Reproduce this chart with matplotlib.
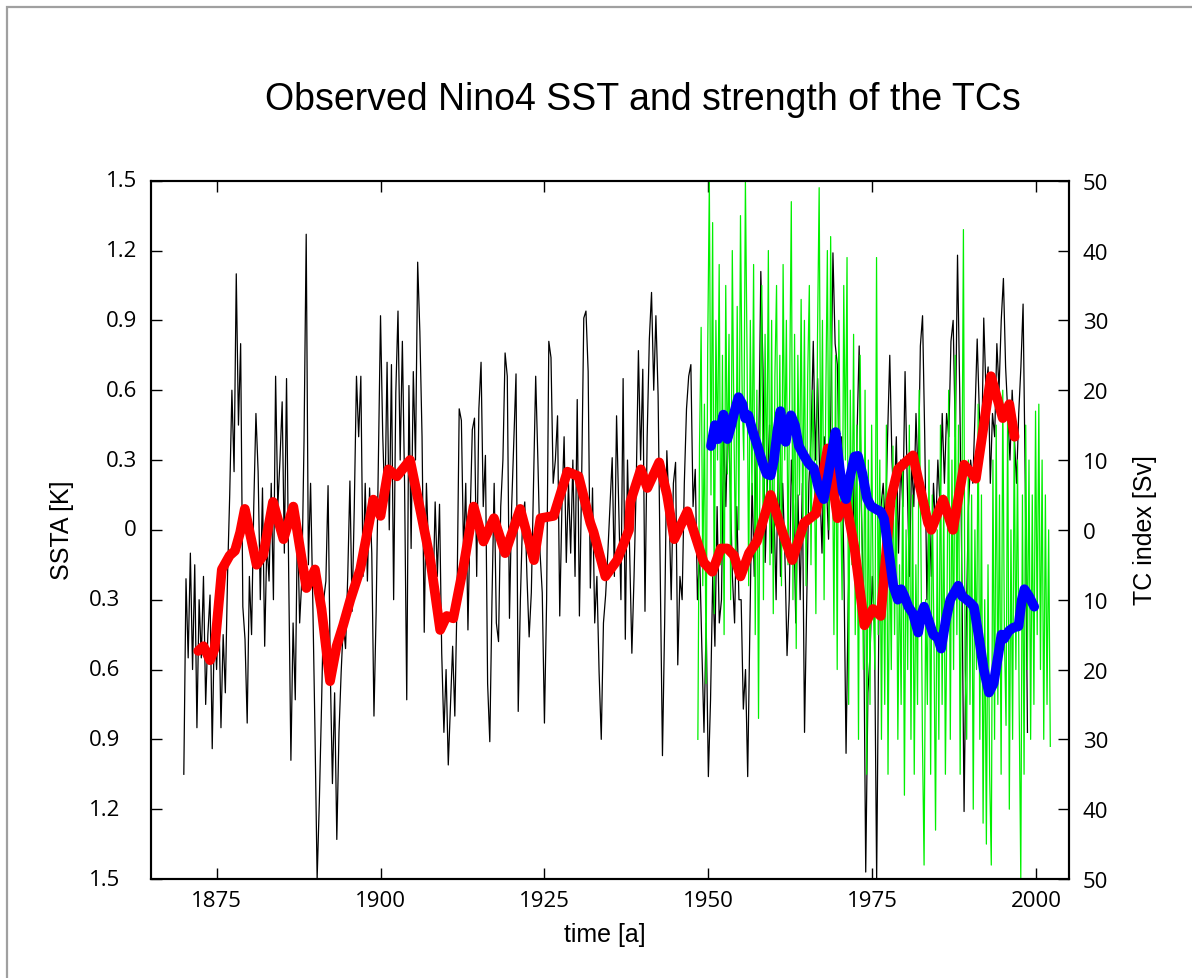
import matplotlib
matplotlib.use("Agg")
import matplotlib.pyplot as plt
import matplotlib.transforms as mtransforms
import numpy as np
from matplotlib.patches import Rectangle

# Nino4 SST anomaly [K], three samples per year starting 1870.0
SST_START = 1870.0
SST_PER_YEAR = 3
sst_anom = [
    -1.05, -0.21, -0.55, -0.10, -0.60, -0.15, -0.85, -0.30, -0.55, -0.20, -0.75, -0.45,
    -0.28, -0.94, -0.40, -0.60, -0.30, -0.85, -0.45, -0.70, -0.20, 0.15, 0.60, 0.25,
    1.10, 0.45, 0.80, -0.33, -0.47, -0.83, -0.20, -0.45, 0.10, 0.50, 0.25, -0.30,
    0.18, -0.50, -0.05, -0.22, 0.20, -0.30, 0.66, 0.10, 0.30, 0.55, -0.10, 0.65,
    -0.20, -0.99, -0.40, -0.73, 0.05, -0.40, -0.21, 0.38, 1.27, -0.15, 0.20, -0.30,
    -0.86, -1.50, -1.17, -0.76, -0.30, -0.22, 0.19, -0.60, -1.09, -0.70, -1.33, -0.87,
    -0.61, -0.40, -0.51, -0.20, 0.21, -0.35, 0.10, 0.66, 0.40, 0.66, -0.20, 0.20,
    -0.22, 0.18, -0.10, -0.80, -0.35, 0.30, 0.92, 0.41, 0.10, 0.72, 0.00, 0.71,
    -0.30, 0.59, 0.94, 0.30, 0.81, 0.20, -0.73, 0.62, -0.08, 0.68, 0.30, 1.15,
    0.85, 0.40, -0.44, 0.20, -0.10, -0.25, -0.30, 0.12, -0.20, 0.11, -0.53, -0.87,
    -0.60, -1.01, -0.76, -0.50, -0.80, -0.30, 0.52, 0.47, -0.10, 0.20, -0.43, 0.05,
    0.43, 0.48, -0.20, 0.52, 0.72, 0.10, 0.32, -0.66, -0.91, -0.30, 0.20, -0.40,
    -0.48, 0.10, 0.30, 0.76, 0.66, -0.38, 0.10, 0.38, 0.67, -0.78, -0.30, 0.05,
    0.12, -0.20, -0.46, -0.27, 0.20, 0.66, 0.30, -0.10, -0.27, -0.83, -0.30, 0.81,
    0.74, 0.20, 0.30, 0.49, -0.37, 0.10, 0.40, -0.14, 0.20, -0.10, 0.30, -0.20,
    0.56, -0.37, 0.20, 0.91, 0.94, 0.68, -0.25, 0.18, -0.40, -0.20, -0.61, -0.90,
    -0.40, -0.28, -0.10, 0.10, 0.31, -0.20, 0.49, 0.10, -0.30, 0.65, -0.47, 0.30,
    -0.10, -0.53, -0.20, 0.20, 0.77, 0.30, 0.69, -0.35, 0.40, 0.82, 1.02, 0.60,
    0.92, 0.58, -0.20, -0.97, -0.40, 0.34, 0.10, -0.30, 0.20, 0.29, -0.58, -0.20,
    -0.30, 0.20, 0.52, 0.66, 0.71, 0.10, 0.26, -0.30, -0.10, -0.50, -0.87, -0.40,
    -1.06, -0.73, -0.20, -0.50, 0.10, -0.40, -0.30, 0.40, 0.10, 0.50, 0.20, -0.20,
    -0.40, 0.10, -0.30, -0.30, -0.77, -0.60, -1.06, -0.41, 0.20, -0.20, 0.40, 0.30,
    1.11, 0.69, -0.14, 0.20, 0.45, -0.10, 0.10, -0.30, 0.35, -0.20, 0.20, -0.10,
    -0.54, -0.30, 0.30, 0.10, -0.40, 0.15, -0.30, 0.20, -0.87, -0.31, 0.20, 0.40,
    0.81, 0.30, 0.65, 0.20, -0.10, 0.40, 0.20, -0.04, 0.50, 1.19, 0.80, 0.71,
    0.20, 0.40, -0.15, -0.96, -0.30, 0.10, 0.30, -0.20, 0.40, 0.79, 0.10, -0.30,
    -1.47, -0.70, -0.53, -0.20, -0.40, -1.50, -0.40, 0.10, 0.20, 0.00, 0.40, 0.75,
    0.30, 0.10, 0.40, -0.10, 0.30, 0.10, 0.68, 0.20, -0.20, 0.30, 0.10, 0.50,
    0.20, 0.79, 0.92, 0.40, -0.30, 0.10, -0.20, 0.20, 0.00, 0.30, 0.10, 0.50,
    0.20, 0.50, 0.40, 0.81, 0.90, 0.40, 1.18, 0.60, -0.20, -1.21, -0.40, 0.10,
    0.30, 0.20, 0.50, 0.82, 0.50, 0.30, 0.91, 0.60, 0.70, 0.20, 0.50, 0.40,
    0.80, 0.60, 0.90, 1.08, 0.70, 0.50, 0.30, 0.60, 0.40, 0.20, 0.50, 0.70,
    0.97, 0.20, -0.87,
]

# running mean of the SST anomaly [K]
sst_smooth_years = [
    1872.2, 1873.0, 1874.0, 1874.7, 1875.8, 1877.0, 1877.8, 1878.6, 1879.3, 1881.1,
    1882.1, 1883.6, 1885.2, 1886.7, 1888.7, 1890.0, 1891.0, 1892.3, 1893.3, 1894.3,
    1895.4, 1896.9, 1898.4, 1898.9, 1900.0, 1901.2, 1902.5, 1904.5, 1906.1, 1907.6,
    1909.1, 1910.1, 1911.1, 1912.7, 1914.2, 1915.7, 1917.3, 1919.0, 1921.3, 1923.4,
    1924.4, 1926.4, 1928.5, 1930.2, 1932.0, 1932.5, 1934.3, 1936.1, 1937.9, 1938.1,
    1939.7, 1940.7, 1942.5, 1943.7, 1944.8, 1946.8, 1949.3, 1950.6, 1951.9, 1952.9,
    1953.9, 1954.9, 1956.2, 1957.4, 1959.5, 1961.3, 1962.8, 1964.6, 1966.4, 1968.2,
    1969.7, 1971.0, 1972.3, 1973.8, 1975.1, 1976.3, 1977.8, 1978.9, 1981.2, 1983.5,
    1984.0, 1985.8, 1987.3, 1989.0, 1990.8, 1993.1, 1994.9, 1995.9, 1996.7,
]
sst_smooth = [
    -0.52, -0.50, -0.56, -0.51, -0.17, -0.11, -0.09, -0.01, 0.09, -0.15,
    -0.11, 0.12, -0.04, 0.10, -0.25, -0.17, -0.34, -0.65, -0.50, -0.41,
    -0.30, -0.17, 0.05, 0.13, 0.06, 0.26, 0.23, 0.30, 0.08, -0.13,
    -0.43, -0.37, -0.38, -0.15, 0.10, -0.05, 0.05, -0.10, 0.09, -0.13,
    0.05, 0.06, 0.25, 0.23, 0.03, -0.01, -0.20, -0.13, 0.00, 0.12,
    0.26, 0.18, 0.29, 0.15, -0.04, 0.08, -0.14, -0.18, -0.08, -0.08,
    -0.11, -0.20, -0.10, -0.05, 0.15, -0.01, -0.13, 0.03, 0.07, 0.35,
    0.05, 0.12, -0.08, -0.41, -0.34, -0.37, 0.13, 0.26, 0.32, 0.03,
    0.00, 0.13, 0.00, 0.28, 0.22, 0.66, 0.48, 0.54, 0.40,
]

# TC index [Sv], four samples per year starting 1948.4
TC_START = 1948.4
TC_PER_YEAR = 4
tc_index = [
    -30, 12, 29, -8, 18, -22, 26, 50, 5, 44, -12, 30,
    10, 38, -5, 25, -15, 35, 8, 28, -10, 40, 15, -5,
    32, 0, 45, 20, 10, 50, 25, -8, 30, 5, 38, -15,
    20, -27, 15, 35, -10, 28, 5, 40, -5, 30, -12, 22,
    35, 0, 25, -8, 38, 10, 30, -5, 20, 47, -10, 28,
    -17, 25, 5, 33, 0, 30, -8, 22, 35, -5, 20, 10,
    -12, 28, 49, 5, 30, -10, 18, 40, 0, 42, 15, -15,
    25, -20, 30, 5, -10, 35, 10, 39, -25, 20, -5, 28,
    -15, 15, -30, 25, 0, -20, 20, -35, 10, -25, 15, -10,
    -20, 39, -15, 10, -30, 5, -25, 15, -35, 0, -20, 12,
    -15, 8, -30, -5, -25, 10, -38, 0, -20, 15, -30, 5,
    -35, -5, -25, 20, 0, -30, -48, -10, -25, 10, -35, 5,
    -15, -43, 0, -30, 15, -25, 5, -35, -10, 20, -30, 10,
    -20, 25, -15, 15, -35, 0, 43, -20, -30, 10, -25, 5,
    -40, 0, -20, 18, -30, 5, -42, -10, -45, -5, -35, -48,
    10, -30, 15, -25, 5, -35, 20, -15, -28, 18, -40, 0,
    -30, 15, -20, 10, -25, -50, 5, -35, 15, -20, 10, -30,
    5, -25, 17, -15, 18, -20, 10, -30, 5, -25, 0, -31,
]

# running mean of the TC index [Sv]
tc_smooth_years = [
    1950.4, 1951.0, 1951.5, 1952.3, 1952.9, 1953.5, 1954.0, 1954.6, 1955.2, 1955.6,
    1956.1, 1956.8, 1957.5, 1958.3, 1958.9, 1959.5, 1960.0, 1960.5, 1961.0, 1961.5,
    1961.8, 1962.3, 1962.6, 1963.2, 1963.8, 1964.6, 1965.3, 1966.1, 1966.8, 1967.6,
    1968.3, 1969.0, 1969.4, 1970.0, 1970.5, 1971.0, 1971.7, 1972.3, 1972.8, 1973.5,
    1974.2, 1974.8, 1975.5, 1976.3, 1976.8, 1977.5, 1978.2, 1978.9, 1979.4, 1979.9,
    1980.5, 1981.2, 1982.0, 1982.5, 1982.9, 1983.6, 1984.3, 1985.0, 1985.5, 1986.2,
    1986.9, 1987.5, 1988.1, 1988.7, 1989.4, 1990.0, 1990.5, 1991.2, 1992.0, 1992.8,
    1993.5, 1994.2, 1994.7, 1995.1, 1995.8, 1996.5, 1997.3, 1997.8, 1998.2, 1998.9,
    1999.7,
]
tc_smooth = [
    12, 15, 13, 16.5, 13, 15, 17, 19, 18, 16,
    16.4, 14, 12, 9.5, 8, 7.8, 10, 14, 17, 13,
    12.6, 15.5, 16.4, 15, 12, 10.6, 9.5, 8.8, 6, 4.4,
    8, 12, 14, 9, 5.5, 4.4, 8, 10.5, 10.6, 8,
    4.5, 3.4, 3, 2.6, 1.6, -3, -8, -10, -8.5, -9.5,
    -11, -12, -14.7, -12, -11, -13, -15, -15.5, -17, -13,
    -10, -9, -8, -9.5, -10, -10.5, -11, -15, -20, -23.3,
    -22, -18, -15, -15.6, -14.5, -14, -13.8, -10, -8.5, -9.5,
    -11,
]

sst_ticks = [-1.5, -1.2, -0.9, -0.6, -0.3, 0, 0.3, 0.6, 0.9, 1.2, 1.5]
tc_ticks = [-50, -40, -30, -20, -10, 0, 10, 20, 30, 40, 50]
year_ticks = [1875, 1900, 1925, 1950, 1975, 2000]

TICK_FONT = "Open Sans"
LABEL_FONT = "Liberation Sans"


def style_axis(ax):
    ax.tick_params(direction="in", length=8, width=1.0, labelsize=16, pad=10)
    for label in ax.get_xticklabels() + ax.get_yticklabels():
        label.set_fontfamily(TICK_FONT)
    for spine in ax.spines.values():
        spine.set_linewidth(1.5)


def main():
    fig = plt.figure(figsize=(11.92, 9.79), dpi=100)
    fig.add_artist(Rectangle((7 / 1192, -0.1), 1.2, 1.1 - 8 / 979,
                             transform=fig.transFigure, fill=False,
                             edgecolor="#a0a0a0", linewidth=1.6))

    ax = fig.add_axes([0.1267, 0.1011, 0.7701, 0.7133])
    sst_t = SST_START + np.arange(len(sst_anom)) / SST_PER_YEAR
    tc_t = TC_START + np.arange(len(tc_index)) / TC_PER_YEAR

    ax.plot(sst_t, sst_anom, color="black", linewidth=0.9, zorder=1)
    ax.set_xlim(1865, 2005)
    ax.set_ylim(-1.5, 1.5)
    ax.set_xticks(year_ticks)
    ax.set_xticklabels([str(y) for y in year_ticks])
    ax.set_yticks(sst_ticks)
    ax.set_yticklabels([])
    ax.xaxis.set_ticks_position("both")
    style_axis(ax)
    ax.tick_params(axis="x", pad=8)

    # SSTA tick labels: the negative ones sit further left in the original
    label_trans = mtransforms.blended_transform_factory(ax.transAxes, ax.transData)
    for value in sst_ticks:
        offset = -31 if value < 0 else -14
        ax.text(offset / 918, value, f"{abs(value):g}", transform=label_trans,
                ha="right", va="center", fontsize=16, family=TICK_FONT,
                clip_on=False)

    ax2 = ax.twinx()
    ax2.plot(tc_t, tc_index, color="#00f000", linewidth=0.9, zorder=1)
    ax2.set_ylim(-50, 50)
    ax2.set_yticks(tc_ticks)
    ax2.set_yticklabels([f"{abs(v)}" for v in tc_ticks])
    style_axis(ax2)

    ax3 = ax.twinx()
    ax3.plot(sst_smooth_years, sst_smooth, color="#ff0000", linewidth=7,
             solid_joinstyle="round", solid_capstyle="round")
    ax3.set_ylim(-1.5, 1.5)
    ax3.axis("off")

    ax4 = ax.twinx()
    ax4.plot(tc_smooth_years, tc_smooth, color="#0000ff", linewidth=7,
             solid_joinstyle="round", solid_capstyle="round")
    ax4.set_ylim(-50, 50)
    ax4.axis("off")

    fig.text(0.539, 0.898, "Observed Nino4 SST and strength of the TCs",
             ha="center", va="center", fontsize=27, family=LABEL_FONT)
    fig.text(0.052, 0.4586, "SSTA [K]", rotation=90, ha="center", va="center",
             fontsize=18, family=LABEL_FONT)
    fig.text(0.9606, 0.4586, "TC index [Sv]", rotation=90, ha="center", va="center",
             fontsize=18, family=LABEL_FONT)
    fig.text(0.5075, 0.045, "time [a]", ha="center", va="center",
             fontsize=18, family=LABEL_FONT)

    fig.savefig("out.png", dpi=100)
    plt.close(fig)


if __name__ == "__main__":
    main()
